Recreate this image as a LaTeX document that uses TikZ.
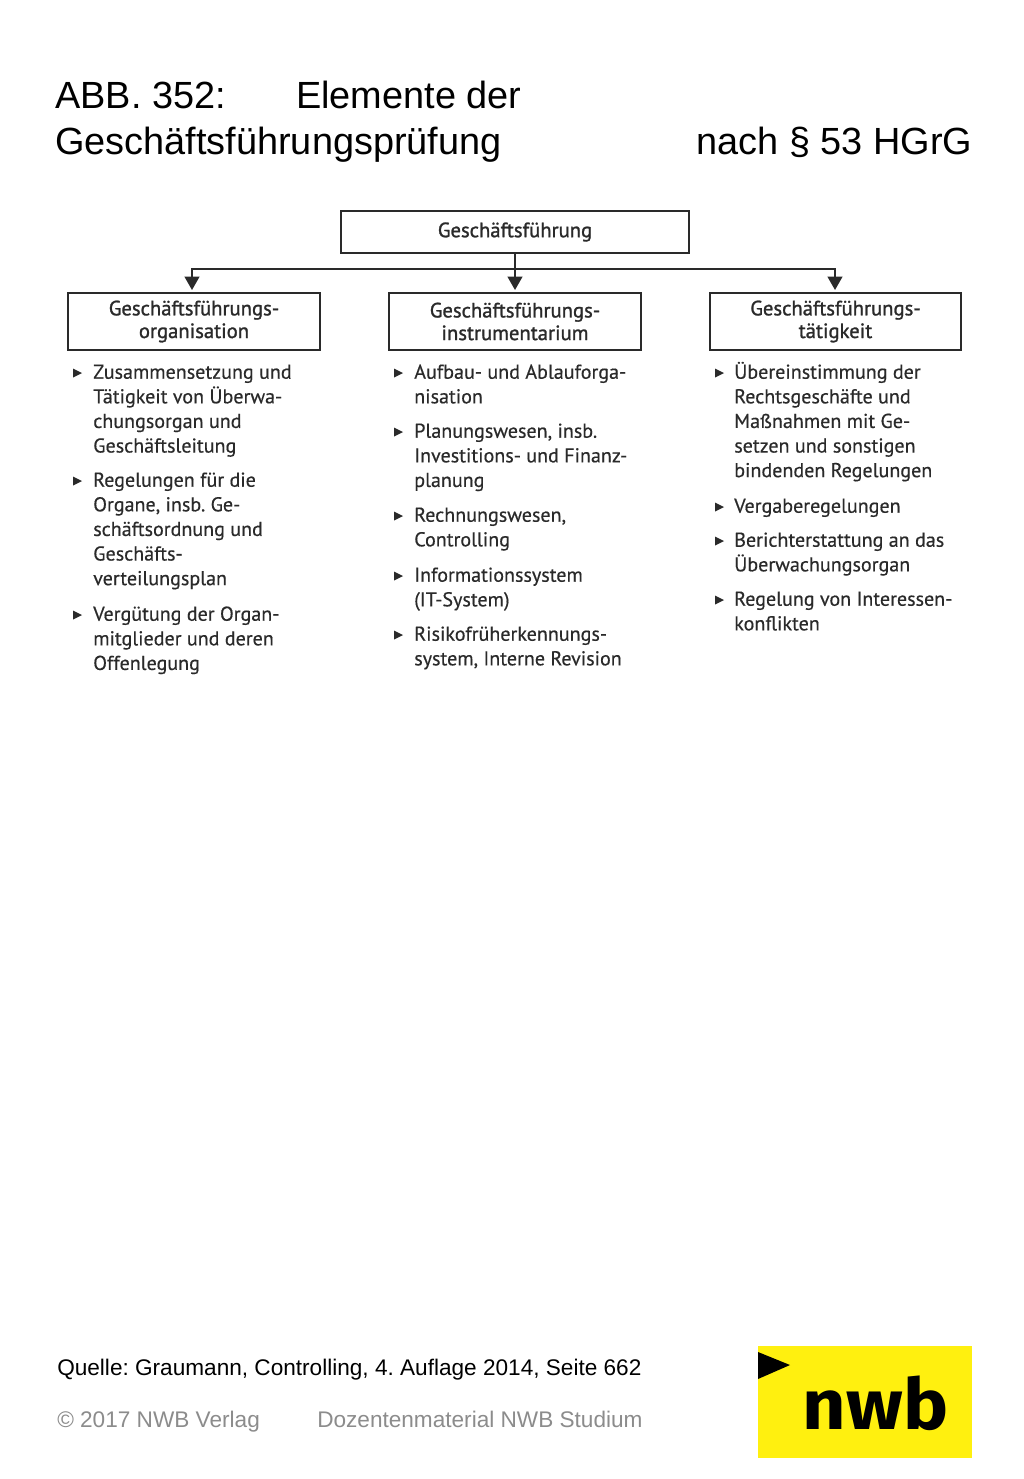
\documentclass[tikz,border=0pt]{standalone}
\usepackage{fontspec}
\setmainfont{Liberation Sans}
\frenchspacing
\newfontfamily\diafont{PT Sans}[RawFeature={embolden=0.4}]
\newfontfamily\boxfont{PT Sans}[RawFeature={embolden=1.2}]
\newfontfamily\logofont{Fira Sans}[FakeStretch=1.07]
\usetikzlibrary{arrows.meta}
\definecolor{ink}{HTML}{2A2A2A}
\definecolor{nwbyellow}{HTML}{FFF00F}
\definecolor{footgrey}{HTML}{8C8C8C}
\newcommand{\diatext}{\diafont\fontsize{15.05}{18.45}\selectfont}
\newcommand{\boxtext}{\boxfont\fontsize{15.5}{17}\selectfont}
\tikzset{
  x=0.75pt,y=-0.75pt,
  titletext/.style={anchor=base west,inner sep=0pt,font=\fontsize{28.4}{34}\selectfont,text=black},
  foot/.style={anchor=base west,inner sep=0pt,font=\fontsize{16.95}{21}\selectfont},
  chartbox/.style={draw=ink,line width=1.5pt,fill=white,align=center,text=ink,font=\boxtext,inner sep=0pt},
  item/.style={anchor=north west,inner sep=0pt,align=left,text=ink,font=\diatext},
  conn/.style={draw=ink,line width=1.5pt},
  tip/.style={-{Triangle[length=10pt,width=11pt]},conn},
  bullet/.style={fill=ink},
}
\newcommand{\bulleted}[5]{% name, bullet x, text x, first-line centre y, text
  \fill[bullet] (#2+1,#4-3.5) -- (#2+10,#4+1) -- (#2+1,#4+5.5) -- cycle;
  \node[item] (#1) at (#3,#4-12.2) {\rule{0pt}{14pt}#5};
}
\begin{document}
\begin{tikzpicture}
\useasboundingbox (0,0) rectangle (1024,1479);
\fill[white] (0,0) rectangle (1024,1479);
% title
\node[titletext] (t1) at (55,108.5) {ABB. 352:};
\node[titletext] (t2) at (296,108.5) {Elemente der};
\node[titletext] (t3) at (55,154.5) {Geschäftsführungsprüfung};
\node[titletext] (t4) at (696.5,154.5) {nach § 53 HGrG};
% boxes
\node[chartbox,minimum width=348*0.75pt,minimum height=42*0.75pt] (top) at (515,232) {Geschäftsführung};
\node[chartbox,minimum width=252*0.75pt,minimum height=57*0.75pt] (a) at (194,321.5) {Geschäftsführungs-\\organisation};
\node[chartbox,minimum width=252*0.75pt,minimum height=57*0.75pt] (b) at (515,321.5) {Geschäftsführungs-\\instrumentarium};
\node[chartbox,minimum width=251*0.75pt,minimum height=57*0.75pt] (c) at (835.5,321.5) {Geschäftsführungs-\\tätigkeit};
% connectors
\coordinate (bus) at (515,269);
\coordinate (tipa) at (192,290);
\coordinate (tipb) at (515,290);
\coordinate (tipc) at (835,290);
\draw[tip] (bus) -| (tipa);
\draw[tip] (bus) -| (tipc);
\draw[tip] (top.south) -- (tipb);
% column 1
\bulleted{a1}{72}{93}{372}{Zusammensetzung und\\Tätigkeit von Überwa-\\chungsorgan und\\Geschäftsleitung}
\bulleted{a2}{72}{93}{480}{Regelungen für die\\Organe, insb. Ge-\\schäftsordnung und\\Geschäfts-\\verteilungsplan}
\bulleted{a3}{72}{93}{614}{Vergütung der Organ-\\mitglieder und deren\\Offenlegung}
% column 2
\bulleted{b1}{393}{414}{372}{Aufbau- und Ablauforga-\\nisation}
\bulleted{b2}{393}{414}{431}{Planungswesen, insb.\\Investitions- und Finanz-\\planung}
\bulleted{b3}{393}{414}{515}{Rechnungswesen,\\Controlling}
\bulleted{b4}{393}{414}{575}{Informationssystem\\(IT-System)}
\bulleted{b5}{393}{414}{634}{Risikofrüherkennungs-\\system, Interne Revision}
% column 3
\bulleted{c1}{714}{734}{372}{Übereinstimmung der\\Rechtsgeschäfte und\\Maßnahmen mit Ge-\\setzen und sonstigen\\bindenden Regelungen}
\bulleted{c2}{714}{734}{506}{Vergaberegelungen}
\bulleted{c3}{714}{734}{540}{Berichterstattung an das\\Überwachungsorgan}
\bulleted{c4}{714}{734}{599}{Regelung von Interessen-\\konflikten}
% footer
\node[foot,text=black] (q) at (57,1375.5) {Quelle: Graumann, Controlling, 4. Auflage 2014, Seite 662};
\node[foot,text=footgrey] (f1) at (57,1427.5) {© 2017 NWB Verlag};
\node[foot,text=footgrey] (f2) at (317,1427.5) {Dozentenmaterial NWB Studium};
% logo
\fill[nwbyellow] (758,1346) rectangle (972,1458);
\fill[black] (758,1352) -- (790,1365) -- (758,1379) -- cycle;
\node[anchor=base,inner sep=0pt,font=\logofont\fontsize{53}{60}\selectfont\bfseries,text=black] (logo) at (875.5,1429) {nwb};
\end{tikzpicture}
\end{document}
